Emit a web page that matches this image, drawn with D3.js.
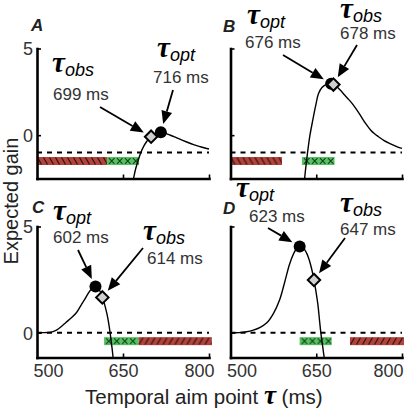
<!DOCTYPE html>
<html><head><meta charset="utf-8">
<script src="https://cdn.jsdelivr.net/npm/d3@7"></script>
<style>body{margin:0;background:#fff}svg{display:block}</style>
</head><body>
<svg id="c" width="404" height="412"></svg>
<script>
// ---------------- data ----------------
const panels = ["A", "B", "C", "D"];
const xTicks = [500, 650, 800];
const yTicks = [0, 5];
const curveA = [[660,-3.6],[665,-3.0],[668,-2.55],[672,-1.95],[676,-1.5],[681,-1.02],[686,-0.65],[691,-0.38],[697,-0.12],[703,0.03],[709,0.12],[716,0.16],[723,0.12],[730,0.03],[740,-0.1],[749,-0.23],[760,-0.38],[773,-0.55],[785,-0.67],[796,-0.77],[800,-0.8]];
const curveB = [[626,-4],[630,-2.39],[633,-1.5],[635,-0.95],[639,0.0],[644,0.88],[649,1.7],[654,2.4],[660,2.75],[667,2.92],[676,2.97],[684,2.85],[692,2.6],[700,2.3],[707,2.05],[713,1.82],[720,1.5],[728,1.1],[736,0.69],[745,0.3],[752,0.08],[759,-0.09],[768,-0.3],[780,-0.5],[794,-0.7],[800,-0.76]];
const curveC = [[500,0],[510,0],[520,0.01],[528,0.05],[534,0.12],[542,0.28],[550,0.47],[560,0.7],[569,0.95],[577,1.3],[584,1.6],[590,1.88],[596,2.08],[602,2.17],[606,2.12],[610,1.95],[614,1.66],[618,1.32],[622,0.88],[625,0.45],[628,-0.1],[631,-0.75],[634,-1.5]];
const curveD = [[500,0],[515,0],[528,0.04],[540,0.12],[552,0.25],[563,0.45],[575,0.9],[586,1.55],[595,2.4],[603,3.2],[610,3.7],[616,3.98],[621,4.06],[626,4.02],[630,3.9],[634,3.7],[638,3.4],[642,3.0],[646,2.5],[650,1.85],[653,1.3],[656,0.5],[658,0],[661,-0.6],[665,-1.4]];
const curves = [curveA, curveB, curveC, curveD];
const optTau = [716, 676, 602, 621];
const optGain = [0.17, 2.97, 2.17, 4.06];
const obsTau = [699, 680, 614, 646];
const obsGain = [-0.09, 2.92, 1.66, 2.48];
const optLabels = ["716 ms", "676 ms", "602 ms", "623 ms"];
const obsLabels = ["699 ms", "678 ms", "614 ms", "647 ms"];
const baseline = [-1, -1, 0, 0];
const redBars = [[500,622],[500,590],[677,805],[709,805]];
const greenBars = [[622,678],[625,682],[617,677],[621,677]];
const redHatch = ["back", "back", "fwd", "fwd"];

// ---------------- layout ----------------
const layout = [
  {x0:37,    x1:209, y0:48.5,  y1:178.5, yd:[-2.5,5],  xlab:false, ylab:true},
  {x0:230.5, x1:402, y0:48.5,  y1:178.5, yd:[-2.5,5],  xlab:false, ylab:false},
  {x0:37,    x1:209, y0:226.5, y1:357.5, yd:[-1.17,5], xlab:true,  ylab:true},
  {x0:230.5, x1:402, y0:226.5, y1:357.5, yd:[-1.17,5], xlab:true,  ylab:false}
];
const letterPos = [[31,31],[223,32],[32,213],[223,214]];
// annotation layout: tau glyph position, value text position, arrow tail
const annOpt = [
  {tx:157, ty:57,  vx:153, vy:83,  tail:[173,90]},
  {tx:247, ty:24,  vx:245, vy:48,  tail:[283,55]},
  {tx:53,  ty:220, vx:53,  vy:243, tail:[78,250]},
  {tx:236, ty:197, vx:249, vy:222, tail:[268,228]}
];
const annObs = [
  {tx:52,  ty:72,  vx:53,  vy:100, tail:[100,107]},
  {tx:340, ty:18,  vx:340, vy:39,  tail:[357,45]},
  {tx:143, ty:240, vx:147, vy:264, tail:[143,248]},
  {tx:340, ty:212, vx:340, vy:235, tail:[345,238]}
];

const svg = d3.select("#c");
const defs = svg.append("defs");
const SANS = "'Liberation Sans', Arial, Helvetica, sans-serif";
const SERIF = "'Liberation Serif', 'Times New Roman', serif";
const RED = "#b3423b", GREEN = "#55c262";

panels.forEach((p, i) => {
  const L = layout[i];
  const x = d3.scaleLinear().domain([500, 800]).range([L.x0, L.x1]);
  const y = d3.scaleLinear().domain(L.yd).range([L.y1, L.y0]);
  const g = svg.append("g");

  // clip
  defs.append("clipPath").attr("id", "clip" + i).append("rect")
    .attr("x", L.x0).attr("y", L.y0).attr("width", L.x1 - L.x0 + 1).attr("height", L.y1 - L.y0);

  // bars
  const by = y(baseline[i]) + 4.5, bh = 8;
  const rb = redBars[i], gb = greenBars[i];
  const rx0 = x(rb[0]), rx1 = Math.min(x(rb[1]), L.x1 + 3);
  const pr = defs.append("pattern").attr("id", "pr" + i).attr("patternUnits", "userSpaceOnUse")
    .attr("x", rx0).attr("y", by).attr("width", 6).attr("height", bh);
  pr.append("rect").attr("width", 6).attr("height", bh).attr("fill", RED);
  if (redHatch[i] === "back")
    pr.append("line").attr("x1", 0.5).attr("y1", 0.5).attr("x2", 4.5).attr("y2", bh - 0.5).attr("stroke", "#2a1210").attr("stroke-width", 1.2);
  else
    pr.append("line").attr("x1", 4.5).attr("y1", 0.5).attr("x2", 0.5).attr("y2", bh - 0.5).attr("stroke", "#2a1210").attr("stroke-width", 1.2);
  g.append("rect").attr("x", rx0).attr("y", by).attr("width", rx1 - rx0).attr("height", bh).attr("fill", "url(#pr" + i + ")");

  const gx0 = x(gb[0]), gx1 = x(gb[1]);
  const pg = defs.append("pattern").attr("id", "pg" + i).attr("patternUnits", "userSpaceOnUse")
    .attr("x", gx0 + 1).attr("y", by).attr("width", 8).attr("height", bh);
  pg.append("rect").attr("x", -1).attr("width", 10).attr("height", bh).attr("fill", GREEN);
  pg.append("path").attr("d", `M1,1.2L6.5,${bh-1.2}M6.5,1.2L1,${bh-1.2}`).attr("stroke", "#123d17").attr("stroke-width", 1.1).attr("fill", "none");
  g.append("rect").attr("x", gx0).attr("y", by).attr("width", gx1 - gx0).attr("height", bh).attr("fill", "url(#pg" + i + ")");

  // dashed baseline
  g.append("line").attr("x1", L.x0).attr("x2", L.x1).attr("y1", y(baseline[i])).attr("y2", y(baseline[i]))
    .attr("stroke", "#000").attr("stroke-width", 2).attr("stroke-dasharray", "5,5");

  // curve
  const line = d3.line().x(d => x(d[0])).y(d => y(d[1])).curve(d3.curveCatmullRom.alpha(0.5));
  g.append("path").datum(curves[i]).attr("d", line).attr("fill", "none")
    .attr("stroke", "#000").attr("stroke-width", 1.4).attr("clip-path", "url(#clip" + i + ")");

  // axes
  const xa = d3.axisBottom(x).tickValues(xTicks).tickSizeInner(-4).tickSizeOuter(0).tickPadding(6)
    .tickFormat(L.xlab ? d3.format("d") : () => "");
  const gxa = g.append("g").attr("transform", `translate(0,${L.y1})`).call(xa);
  const ya = d3.axisLeft(y).tickValues(yTicks).tickSizeInner(-4).tickSizeOuter(0).tickPadding(4)
    .tickFormat(L.ylab ? d3.format("d") : () => "");
  const gya = g.append("g").attr("transform", `translate(${L.x0},0)`).call(ya);
  [gxa, gya].forEach(a => {
    a.select(".domain").attr("stroke", "#000").attr("stroke-width", 2.6).attr("stroke-linecap", "square");
    a.selectAll(".tick line").attr("stroke", "#000").attr("stroke-width", 1.6);
    a.selectAll(".tick text").attr("font-family", SANS).attr("font-size", 18).attr("fill", "#333");
  });
  gya.selectAll(".tick text").attr("dy", "0.36em");
  gxa.selectAll(".tick text").attr("dy", "0.76em")
    .attr("text-anchor", (d, k) => k === 0 ? "start" : (k === xTicks.length - 1 ? "end" : "middle"))
    .attr("dx", (d, k) => k === 0 ? -4 : (k === xTicks.length - 1 ? (i === 3 ? 1 : 5) : 0));
  // hide 500 tick mark (coincides with y axis)
  gxa.selectAll(".tick line").filter(d => d === 500).remove();

  // markers
  g.append("circle").attr("cx", x(optTau[i])).attr("cy", y(optGain[i])).attr("r", 6).attr("fill", "#000");
  const dx = x(obsTau[i]), dy = y(obsGain[i]), s = 6.2;
  g.append("path").attr("d", `M${dx},${dy - s}L${dx + s},${dy}L${dx},${dy + s}L${dx - s},${dy}Z`)
    .attr("fill", "#cfcfcf").attr("stroke", "#000").attr("stroke-width", 2);

  // panel letter
  svg.append("text").attr("x", letterPos[i][0]).attr("y", letterPos[i][1]).text(p)
    .attr("font-family", SANS).attr("font-weight", "bold").attr("font-style", "italic").attr("font-size", 17).attr("fill", "#222");

  // annotations
  [[annOpt[i], "opt", optLabels[i], x(optTau[i]), y(optGain[i])],
   [annObs[i], "obs", obsLabels[i], dx, dy]].forEach(([a, sub, val, mx, my]) => {
    const t = svg.append("text").attr("x", a.tx).attr("y", a.ty);
    t.append("tspan").text("τ").attr("font-family", SERIF).attr("font-weight", "bold").attr("font-style", "italic").attr("font-size", 29).attr("fill", "#000");
    t.append("tspan").text(sub).attr("dy", 4).attr("font-family", SANS).attr("font-style", "italic").attr("font-size", 18).attr("fill", "#000");
    svg.append("text").attr("x", a.vx).attr("y", a.vy).text(val)
      .attr("font-family", SANS).attr("font-size", 17).attr("fill", "#333");
    // arrow
    const [tx0, ty0] = a.tail;
    const vx = tx0 - mx, vy = ty0 - my, len = Math.hypot(vx, vy);
    const ux = vx / len, uy = vy / len;
    const gap = 8.5, head = 13, hw = 5.5;
    const tipx = mx + ux * gap, tipy = my + uy * gap;
    const bx = tipx + ux * head, byy = tipy + uy * head;
    svg.append("line").attr("x1", tx0).attr("y1", ty0).attr("x2", bx).attr("y2", byy)
      .attr("stroke", "#000").attr("stroke-width", 1.8);
    svg.append("path").attr("d", `M${tipx},${tipy}L${bx - uy * hw},${byy + ux * hw}L${bx + uy * hw},${byy - ux * hw}Z`).attr("fill", "#000");
  });
});

// axis titles
svg.append("text").attr("transform", "translate(18,201) rotate(-90)").attr("text-anchor", "middle")
  .text("Expected gain").attr("font-family", SANS).attr("font-size", 20).attr("fill", "#222");
const xt = svg.append("text").attr("x", 85).attr("y", 404).attr("font-family", SANS).attr("font-size", 20.5).attr("fill", "#222");
xt.append("tspan").text("Temporal aim point ");
xt.append("tspan").text("τ").attr("font-family", SERIF).attr("font-weight", "bold").attr("font-style", "italic").attr("font-size", 27).attr("fill", "#000");
xt.append("tspan").text(" (ms)");
</script>
</body></html>
